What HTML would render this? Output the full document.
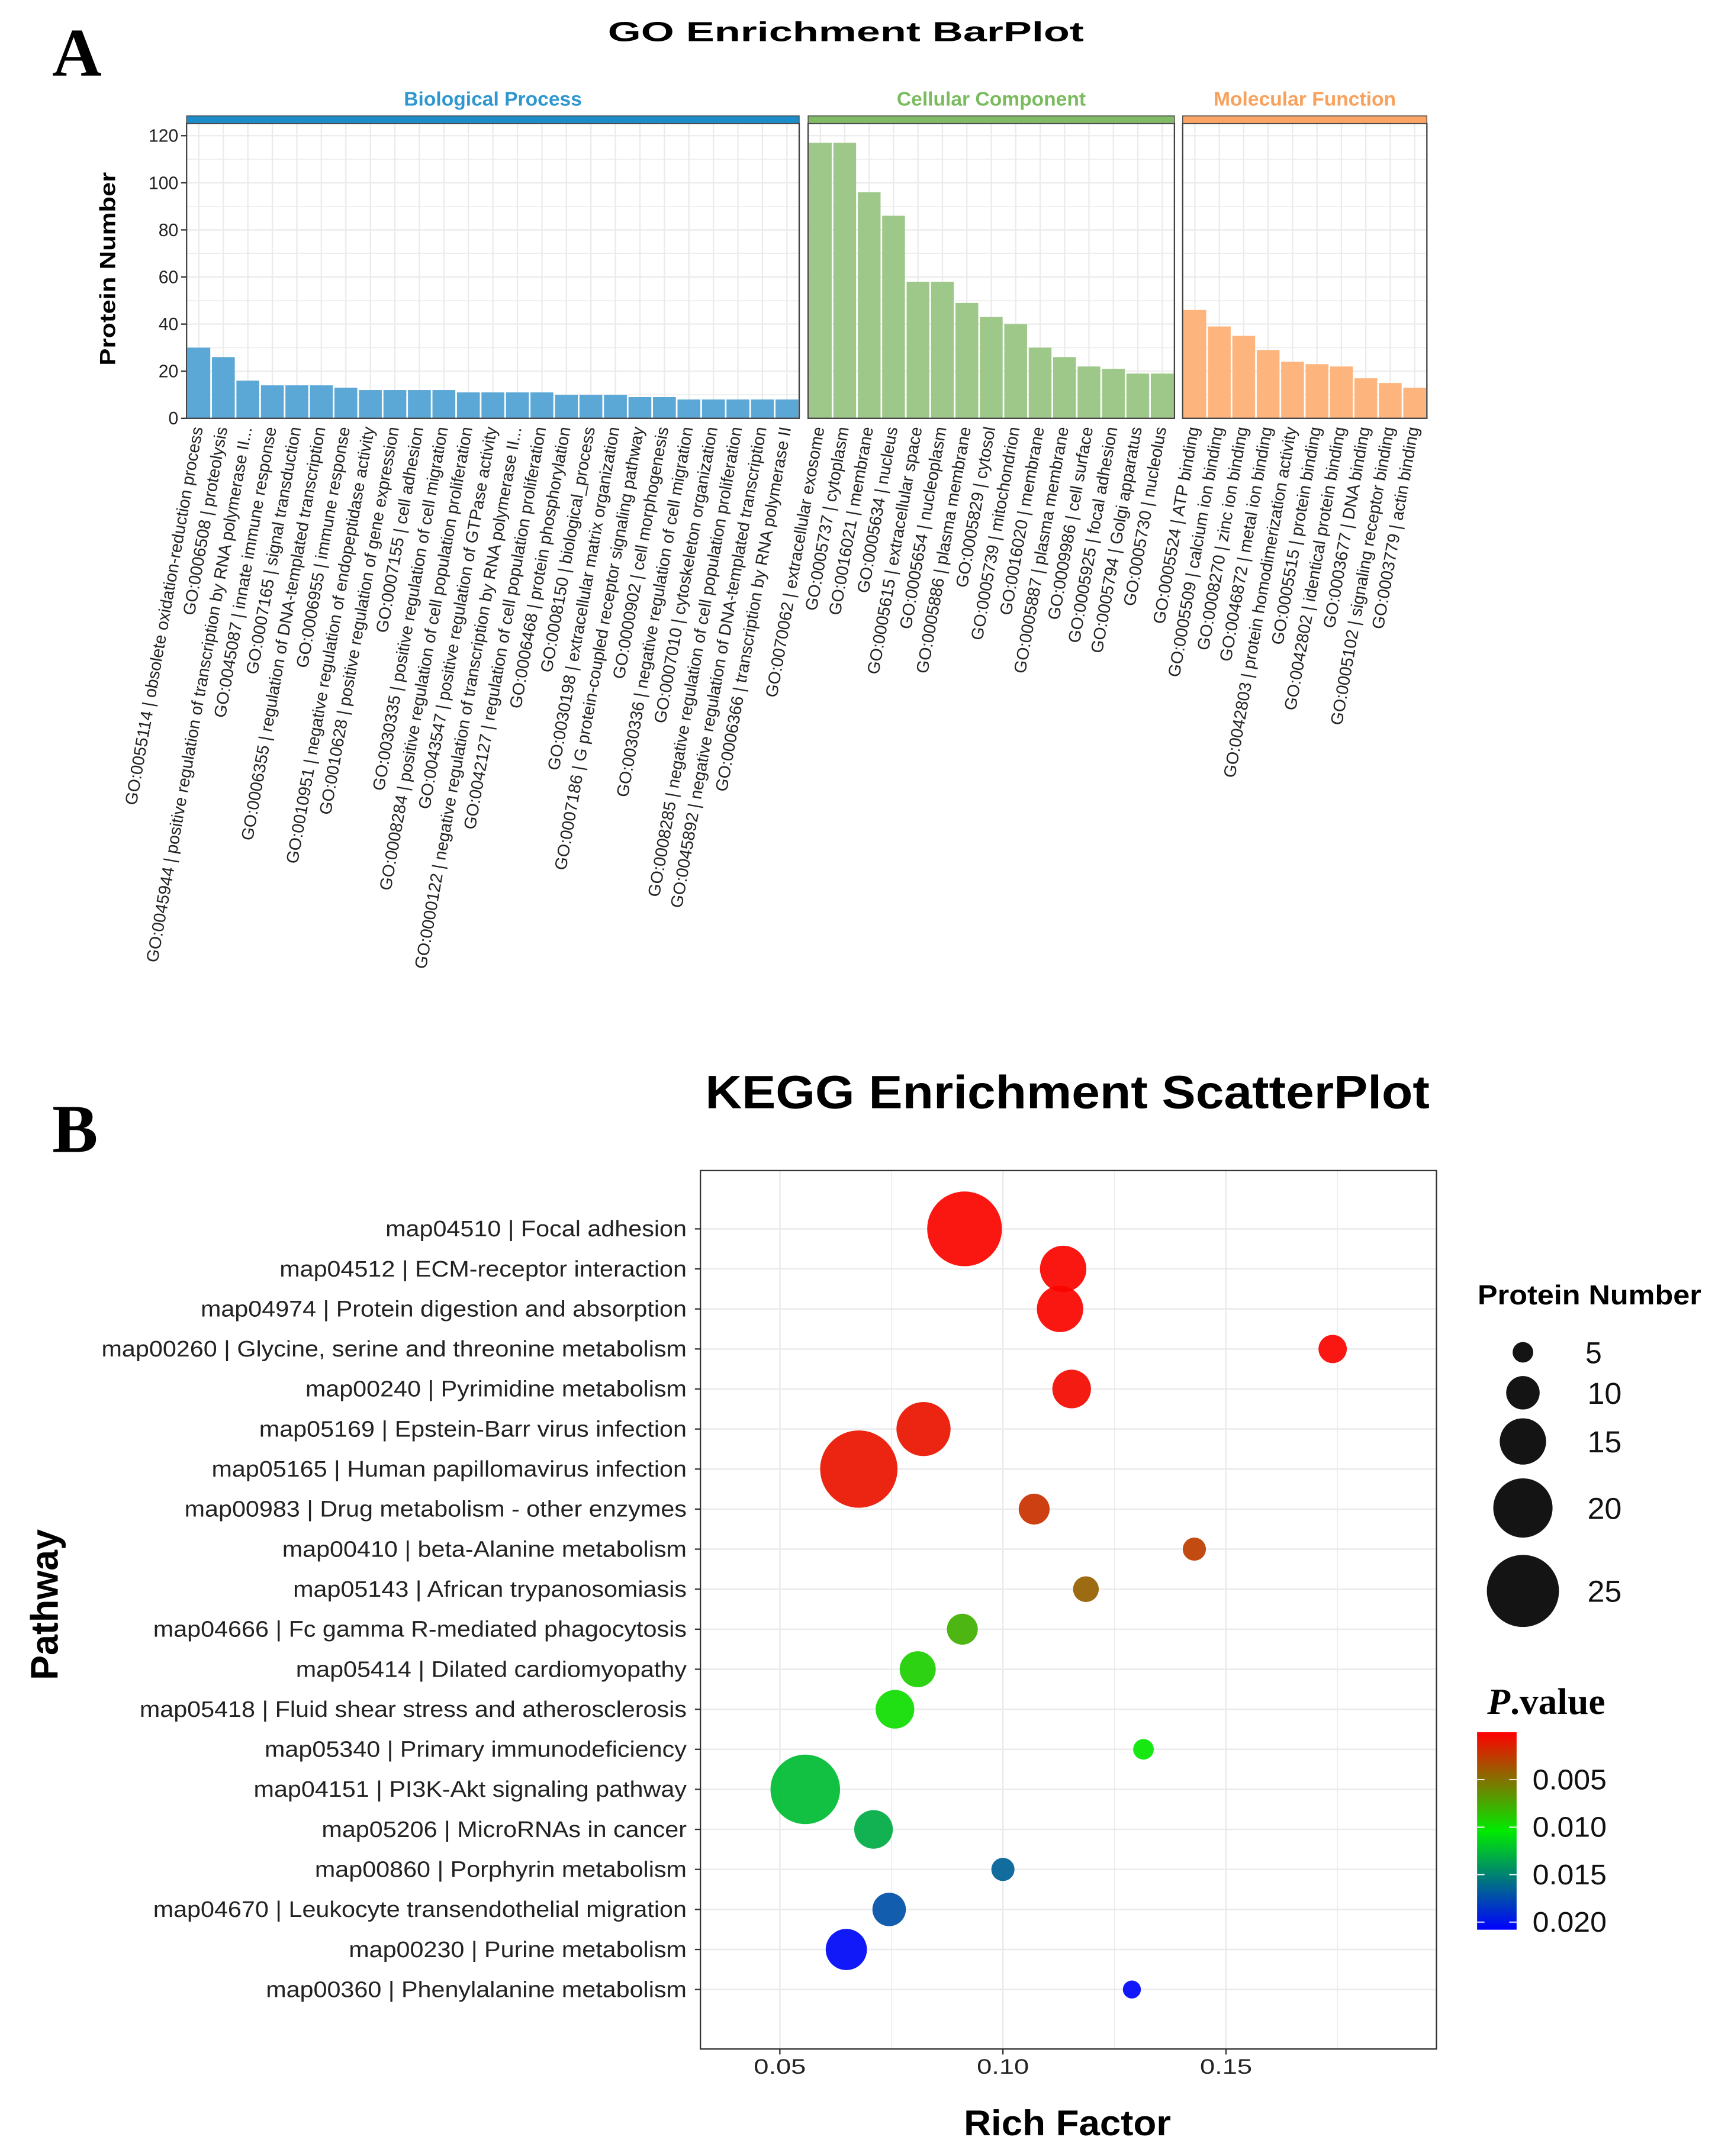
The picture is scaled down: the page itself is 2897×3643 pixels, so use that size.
<!DOCTYPE html>
<html><head><meta charset="utf-8"><style>
html,body{margin:0;padding:0;background:#fff;}
svg{display:block;}
text{font-family:"Liberation Sans",Arial,sans-serif;}
</style></head><body>
<svg id="fig" xmlns="http://www.w3.org/2000/svg" width="2897" height="3643" viewBox="0 0 1250 1572" preserveAspectRatio="none">
<rect width="1250" height="1572" fill="#fff"/>
<text x="38" y="55" font-weight="bold" font-size="50" style="font-family:'Liberation Serif',serif">A</text>
<text x="38" y="840" font-weight="bold" font-size="50" style="font-family:'Liberation Serif',serif">B</text>
<text x="443" y="30" font-weight="bold" font-size="20" textLength="347" lengthAdjust="spacingAndGlyphs">GO Enrichment BarPlot</text>
<text x="514" y="808" font-weight="bold" font-size="34" textLength="528" lengthAdjust="spacingAndGlyphs">KEGG Enrichment ScatterPlot</text>
<g id="barA"></g>
<g id="scatB"></g>
</svg>
<script>
// ---- GO bar data ----
const bpLabels=["GO:0055114 | obsolete oxidation-reduction process","GO:0006508 | proteolysis","GO:0045944 | positive regulation of transcription by RNA polymerase II...","GO:0045087 | innate immune response","GO:0007165 | signal transduction","GO:0006355 | regulation of DNA-templated transcription","GO:0006955 | immune response","GO:0010951 | negative regulation of endopeptidase activity","GO:0010628 | positive regulation of gene expression","GO:0007155 | cell adhesion","GO:0030335 | positive regulation of cell migration","GO:0008284 | positive regulation of cell population proliferation","GO:0043547 | positive regulation of GTPase activity","GO:0000122 | negative regulation of transcription by RNA polymerase II...","GO:0042127 | regulation of cell population proliferation","GO:0006468 | protein phosphorylation","GO:0008150 | biological_process","GO:0030198 | extracellular matrix organization","GO:0007186 | G protein-coupled receptor signaling pathway","GO:0000902 | cell morphogenesis","GO:0030336 | negative regulation of cell migration","GO:0007010 | cytoskeleton organization","GO:0008285 | negative regulation of cell population proliferation","GO:0045892 | negative regulation of DNA-templated transcription","GO:0006366 | transcription by RNA polymerase II"];
const bpValues=[30,26,16,14,14,14,13,12,12,12,12,11,11,11,11,10,10,10,9,9,8,8,8,8,8];
const ccLabels=["GO:0070062 | extracellular exosome","GO:0005737 | cytoplasm","GO:0016021 | membrane","GO:0005634 | nucleus","GO:0005615 | extracellular space","GO:0005654 | nucleoplasm","GO:0005886 | plasma membrane","GO:0005829 | cytosol","GO:0005739 | mitochondrion","GO:0016020 | membrane","GO:0005887 | plasma membrane","GO:0009986 | cell surface","GO:0005925 | focal adhesion","GO:0005794 | Golgi apparatus","GO:0005730 | nucleolus"];
const ccValues=[117,117,96,86,58,58,49,43,40,30,26,22,21,19,19];
const mfLabels=["GO:0005524 | ATP binding","GO:0005509 | calcium ion binding","GO:0008270 | zinc ion binding","GO:0046872 | metal ion binding","GO:0042803 | protein homodimerization activity","GO:0005515 | protein binding","GO:0042802 | identical protein binding","GO:0003677 | DNA binding","GO:0005102 | signaling receptor binding","GO:0003779 | actin binding"];
const mfValues=[46,39,35,29,24,23,22,17,15,13];
const yTicksA=[0,20,40,60,80,100,120];

// ---- KEGG scatter data ----
const pathways=["map04510 | Focal adhesion","map04512 | ECM-receptor interaction","map04974 | Protein digestion and absorption","map00260 | Glycine, serine and threonine metabolism","map00240 | Pyrimidine metabolism","map05169 | Epstein-Barr virus infection","map05165 | Human papillomavirus infection","map00983 | Drug metabolism - other enzymes","map00410 | beta-Alanine metabolism","map05143 | African trypanosomiasis","map04666 | Fc gamma R-mediated phagocytosis","map05414 | Dilated cardiomyopathy","map05418 | Fluid shear stress and atherosclerosis","map05340 | Primary immunodeficiency","map04151 | PI3K-Akt signaling pathway","map05206 | MicroRNAs in cancer","map00860 | Porphyrin metabolism","map04670 | Leukocyte transendothelial migration","map00230 | Purine metabolism","map00360 | Phenylalanine metabolism"];
const richFactor=[0.0914,0.1135,0.1128,0.1739,0.1154,0.0822,0.0677,0.1070,0.1429,0.1186,0.0909,0.0809,0.0758,0.1315,0.0557,0.0710,0.1000,0.0745,0.0649,0.1289];
const proteinNumber=[26,15,15,8,12,18,27,9,6,7,9,11,12,5,24,12,6,10,13,4];
const pValue=[0.0002,0.0002,0.0002,0.0002,0.0005,0.0009,0.0009,0.0022,0.0027,0.0043,0.0078,0.0092,0.0098,0.0102,0.0125,0.0132,0.0165,0.0172,0.0205,0.0205];
const xTicksB=[0.05,0.10,0.15];
const sizeLegend=[5,10,15,20,25];
const pTicks=[0.005,0.010,0.015,0.020];

const NS="http://www.w3.org/2000/svg";
function mk(tag,attrs,parent,txt){const e=document.createElementNS(NS,tag);for(const k in attrs)e.setAttribute(k,attrs[k]);if(txt!==undefined)e.textContent=txt;parent.appendChild(e);return e;}

// ===== Panel A =====
const gA=document.getElementById('barA');
const yTop=90,yBot=305,yMax=125.2;
function yA(v){return yBot-(v/yMax)*(yBot-yTop);}
const facets=[
 {name:"Biological Process",x0:136,x1:582.5,labels:bpLabels,values:bpValues,bar:"#5BA7D5",strip:"#1C8DC9",txt:"#2E97D0",key:"bp"},
 {name:"Cellular Component",x0:589,x1:856,labels:ccLabels,values:ccValues,bar:"#9EC889",strip:"#82BB68",txt:"#7ABB5E",key:"cc"},
 {name:"Molecular Function",x0:862,x1:1040,labels:mfLabels,values:mfValues,bar:"#FDB57D",strip:"#FAA566",txt:"#F7A15D",key:"mf"}];
facets.forEach(f=>{
  const n=f.values.length,bw=(f.x1-f.x0)/n;
  const g=mk('g',{},gA);
  
  
  mk('rect',{x:f.x0,y:yTop,width:f.x1-f.x0,height:yBot-yTop,fill:'#fff'},g);
  for(let v=10;v<=120;v+=10){const y=yA(v);mk('line',{x1:f.x0,x2:f.x1,y1:y,y2:y,stroke:'#ebebeb','stroke-width':v%20==0?1:0.6},g);}
  for(let i=0;i<n;i++){const cx=f.x0+bw*(i+0.5);mk('line',{x1:cx,x2:cx,y1:yTop,y2:yBot,stroke:'#ebebeb','stroke-width':1},g);}
  f.values.forEach((v,i)=>{
    const r=mk('rect',{x:f.x0+bw*i+0.6,y:yA(v),width:bw-1.2,height:yBot-yA(v),fill:f.bar},g);
    
    
    const cx=f.x0+bw*(i+0.5)+3;
    const t=mk('text',{x:cx,y:312,'font-size':12.3,'text-anchor':'end',fill:'#222',transform:`rotate(-80 ${cx} 312)`},g,f.labels[i]);
    
    
  });
  mk('rect',{x:f.x0,y:yTop,width:f.x1-f.x0,height:yBot-yTop,fill:'none',stroke:'#444','stroke-width':1},g);
  const s=mk('rect',{x:f.x0,y:84.5,width:f.x1-f.x0,height:5.5,fill:f.strip,stroke:'#444','stroke-width':0.6},g);
  
  
  const st=mk('text',{x:(f.x0+f.x1)/2,y:77,'font-size':14.5,'font-weight':'bold','text-anchor':'middle',fill:f.txt},g,f.name);
  
  
});
yTicksA.forEach(v=>{const y=yA(v);
  mk('line',{x1:132,x2:136,y1:y,y2:y,stroke:'#333'},gA);
  const t=mk('text',{x:130,y:y+4.5,'font-size':13,'text-anchor':'end',fill:'#222'},gA,String(v));
  
  
});
const yl=mk('text',{x:84,y:196,'font-size':16,'font-weight':'bold','text-anchor':'middle',transform:'rotate(-90 84 196)',textLength:141,lengthAdjust:'spacingAndGlyphs'},gA,'Protein Number');



// ===== Panel B =====
const gB=document.getElementById('scatB');
const L=510.5,R=1047,T=853.5,B=1494;
function xB(v){return 568.4+(v-0.05)/0.05*162.6;}
function yB(i){return 896+i*29.19;}
function rB(n){return 2.8+0.94*n;}
function colB(p){const t=Math.max(0,Math.min(1,p/0.0208));let r,g,b;
  if(t<0.5){const u=t/0.5;r=255*(1-u);g=235*u;b=0;}else{const u=(t-0.5)/0.5;r=0;g=235*(1-u);b=255*u;}
  return `rgb(${Math.round(r)},${Math.round(g)},${Math.round(b)})`;}
mk('rect',{x:L,y:T,width:R-L,height:B-T,fill:'#fff'},gB);
for(let k=1;k<=7;k++){const v=0.025*k;const x=xB(v);if(x>L&&x<R)mk('line',{x1:x,x2:x,y1:T,y2:B,stroke:'#ebebeb','stroke-width':k%2==0?1.1:0.6},gB);}
pathways.forEach((p,i)=>{const y=yB(i);
  mk('line',{x1:L,x2:R,y1:y,y2:y,stroke:'#ebebeb','stroke-width':1.1},gB);
  mk('line',{x1:L-4,x2:L,y1:y,y2:y,stroke:'#333'},gB);
  const ax=L-10;
  const t=mk('text',{x:ax,y:y+5.5,'font-size':16.2,'text-anchor':'end',fill:'#222',transform:`translate(${ax} 0) scale(1.1 1) translate(${-ax} 0)`},gB,p);
  
  
});
pathways.forEach((p,i)=>{
  const c=mk('circle',{cx:xB(richFactor[i]),cy:yB(i),r:rB(proteinNumber[i]),fill:colB(pValue[i]),'fill-opacity':0.93},gB);
  
  
});
mk('rect',{x:L,y:T,width:R-L,height:B-T,fill:'none',stroke:'#333','stroke-width':1},gB);
xTicksB.forEach(v=>{const x=xB(v);
  mk('line',{x1:x,x2:x,y1:B,y2:B+4,stroke:'#333'},gB);
  const t=mk('text',{x:x,y:1512,'font-size':15,'text-anchor':'middle',fill:'#222',textLength:38,lengthAdjust:'spacingAndGlyphs'},gB,v.toFixed(2));
  
  
});
const xt=mk('text',{x:778,y:1557,'font-size':26,'font-weight':'bold','text-anchor':'middle',textLength:151,lengthAdjust:'spacingAndGlyphs'},gB,'Rich Factor');


const pt=mk('text',{x:42,y:1170,'font-size':28,'font-weight':'bold','text-anchor':'middle',transform:'rotate(-90 42 1170)',textLength:110,lengthAdjust:'spacingAndGlyphs'},gB,'Pathway');


// size legend
const lt=mk('text',{x:1077,y:951,'font-size':20,'font-weight':'bold',textLength:163,lengthAdjust:'spacingAndGlyphs'},gB,'Protein Number');


const legY=[986,1015.5,1051,1099.5,1160];
sizeLegend.forEach((n,i)=>{
  const c=mk('circle',{cx:1110,cy:legY[i],r:rB(n),fill:'#141414'},gB);
  
  
  const t=mk('text',{x:n<10?1155.5:1157,y:legY[i]+8,'font-size':22,fill:'#111',textLength:n<10?12:25,lengthAdjust:'spacingAndGlyphs'},gB,String(n));
  
  
});
// color legend
const pv=mk('text',{x:1084,y:1249.6,'font-size':27,'font-weight':'bold',textLength:86,lengthAdjust:'spacingAndGlyphs',style:"font-family:'Liberation Serif',serif"},gB);


mk('tspan',{'font-style':'italic'},pv,'P');
mk('tspan',{},pv,'.value');
const defs=mk('defs',{},gB);
const lg=mk('linearGradient',{id:'pgrad',x1:0,y1:0,x2:0,y2:1},defs);
for(let k=0;k<=10;k++){mk('stop',{offset:k/10,'stop-color':colB(0.0208*k/10)},lg);}
const cb=mk('rect',{x:1076.6,y:1263,width:28.8,height:144,fill:'url(#pgrad)'},gB);


function yP(p){return 1263+p/0.0208*144;}
pTicks.forEach(p=>{const y=yP(p);
  mk('line',{x1:1076.6,x2:1082,y1:y,y2:y,stroke:'#fff','stroke-width':0.8},gB);
  mk('line',{x1:1100,x2:1105.4,y1:y,y2:y,stroke:'#fff','stroke-width':0.8},gB);
  const t=mk('text',{x:1117,y:y+7,'font-size':21,fill:'#111',textLength:54,lengthAdjust:'spacingAndGlyphs'},gB,p.toFixed(3));
  
  
});
</script>
</body></html>
